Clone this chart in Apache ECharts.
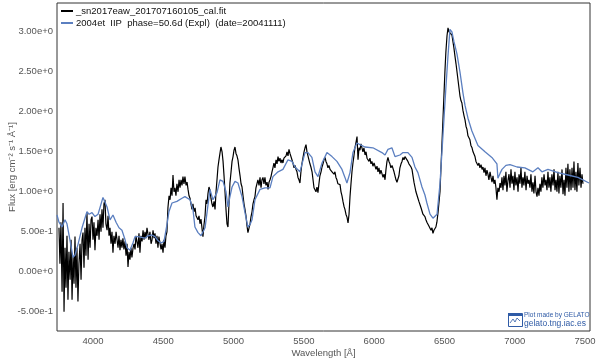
<!DOCTYPE html>
<html><head><meta charset="utf-8">
<script src="https://cdn.jsdelivr.net/npm/echarts@6/dist/echarts.min.js"></script>
<style>html,body{margin:0;padding:0;background:#fff}#c{width:600px;height:358px}</style>
</head><body><div id="c"></div>
<script>
const seriesNames = ['_sn2017eaw_201707160105_cal.fit', '2004et  IIP  phase=50.6d (Expl)  (date=20041111)'];
const xTicks = [4000, 4500, 5000, 5500, 6000, 6500, 7000, 7500];
const yTicks = [-0.5, 0, 0.5, 1.0, 1.5, 2.0, 2.5, 3.0];

const blackWave = [3758,
3765,3772,3780,3787,3794,3801,3808,3815,3822,3829,
3837,3844,3851,3858,3865,3872,3879,3886,3893,3900,
3908,3915,3922,3929,3936,3943,3950,3957,3965,3972,
3979,3986,3993,4000,4007,4014,4021,4029,4036,4043,
4050,4057,4064,4071,4078,4085,4092,4100,4107,4114,
4121,4128,4135,4142,4149,4157,4164,4171,4178,4185,
4192,4199,4206,4213,4220,4228,4235,4242,4249,4256,
4263,4270,4277,4285,4292,4299,4306,4313,4320,4327,
4334,4341,4349,4356,4363,4370,4377,4384,4391,4398,
4405,4413,4420,4427,4434,4441,4448,4455,4462,4469,
4477,4484,4491,4498,4505,4512,4519,4526,4533,4541,
4548,4555,4562,4569,4576,4583,4590,4597,4605,4612,
4619,4626,4633,4640,4647,4654,4662,4669,4676,4683,
4690,4697,4704,4711,4718,4726,4733,4740,4747,4754,
4761,4768,4775,4782,4789,4797,4804,4811,4818,4825,
4832,4839,4846,4853,4861,4868,4875,4882,4889,4896,
4903,4910,4918,4925,4932,4939,4946,4953,4960,4967,
4974,4982,4989,4996,5003,5010,5017,5024,5031,5038,
5046,5053,5060,5067,5074,5081,5088,5095,5102,5110,
5117,5124,5131,5138,5145,5152,5159,5166,5173,5181,
5188,5195,5202,5209,5216,5223,5230,5238,5245,5252,
5259,5266,5273,5280,5287,5294,5302,5309,5316,5323,
5330,5337,5344,5351,5358,5366,5373,5380,5387,5394,
5401,5408,5415,5422,5430,5437,5444,5451,5458,5465,
5472,5479,5486,5494,5501,5508,5515,5522,5529,5536,
5543,5550,5558,5565,5572,5579,5586,5593,5600,5607,
5614,5622,5629,5636,5643,5650,5657,5664,5671,5678,
5686,5693,5700,5707,5714,5721,5728,5735,5742,5750,
5757,5764,5771,5778,5785,5792,5799,5807,5814,5821,
5828,5835,5842,5849,5856,5863,5871,5878,5885,5892,
5899,5906,5913,5920,5927,5935,5942,5949,5956,5963,
5970,5977,5984,5991,5999,6006,6013,6020,6027,6034,
6041,6048,6055,6063,6070,6077,6084,6091,6098,6105,
6112,6119,6127,6134,6141,6148,6155,6162,6169,6176,
6183,6191,6198,6205,6212,6219,6226,6233,6240,6247,
6255,6262,6269,6276,6283,6290,6297,6304,6311,6318,
6326,6333,6340,6347,6354,6361,6368,6375,6382,6390,
6397,6404,6411,6418,6425,6432,6439,6446,6454,6461,
6468,6475,6482,6489,6496,6503,6510,6518,6525,6532,
6539,6546,6553,6560,6567,6575,6582,6589,6596,6603,
6610,6617,6624,6631,6639,6646,6653,6660,6667,6674,
6681,6688,6696,6703,6710,6717,6724,6731,6738,6745,
6752,6760,6767,6774,6781,6788,6795,6802,6809,6816,
6824,6831,6838,6845,6852,6859,6866,6873,6880,6888,
6895,6902,6909,6916,6923,6930,6937,6944,6952,6959,
6966,6973,6980,6987,6994,7001,7008,7016,7023,7030,
7037,7044,7051,7058,7065,7072,7080,7087,7094,7101,
7108,7115,7122,7129,7136,7144,7151,7158,7165,7172,
7179,7186,7193,7200,7208,7215,7222,7229,7236,7243,
7250,7257,7264,7272,7279,7286,7293,7300,7307,7314,
7321,7328,7336,7343,7350,7357,7364,7371,7378,7385,
7392,7400,7407,7414,7421,7428,7435,7442,7449,7456,
7464,7471,7478,7485];

const blackFlux = [0.55,
0.10,0.62,-0.25,0.86,-0.50,0.30,-0.20,0.45,-0.35,0.25,
-0.10,0.40,-0.35,0.20,-0.15,0.44,-0.20,0.30,-0.37,0.10,
0.35,-0.10,0.40,0.49,0.05,0.55,0.20,0.74,0.15,0.60,
0.30,0.65,0.69,0.40,0.62,0.27,0.55,0.45,0.65,0.40,
0.72,0.50,0.78,0.55,0.85,0.90,0.60,0.52,0.70,0.45,
0.55,0.35,0.50,0.24,0.45,0.35,0.50,0.40,0.30,0.45,
0.27,0.40,0.30,0.42,0.28,0.38,0.20,0.35,0.06,0.25,
0.15,0.30,0.18,0.30,0.35,0.28,0.45,0.44,0.30,0.48,
0.24,0.45,0.38,0.52,0.40,0.50,0.42,0.55,0.56,0.40,
0.50,0.35,0.40,0.52,0.42,0.48,0.35,0.45,0.30,0.44,
0.44,0.28,0.35,0.24,0.40,0.30,0.45,0.50,0.80,0.95,
0.90,1.05,0.95,1.21,1.00,1.05,0.95,1.10,1.00,1.15,
1.05,1.15,1.08,1.19,1.10,1.19,1.08,1.12,1.03,0.95,
0.92,0.85,0.78,0.85,0.75,0.80,0.70,0.72,0.65,0.70,
0.60,0.66,0.55,0.44,0.58,0.70,0.90,0.85,0.98,1.06,
1.02,0.92,0.85,0.81,0.88,0.78,1.00,1.15,1.31,1.40,
1.48,1.56,1.50,1.38,1.20,1.00,0.78,0.60,0.56,0.85,
1.11,1.25,1.38,1.44,1.52,1.56,1.48,1.45,1.40,1.30,
1.20,1.10,1.06,0.95,0.85,0.78,0.70,0.58,0.49,0.55,
0.60,0.69,0.75,0.85,0.90,0.94,1.05,1.10,1.15,1.08,
1.18,1.05,1.15,1.18,1.10,1.18,1.08,1.12,1.03,1.12,
1.15,1.19,1.25,1.30,1.36,1.30,1.40,1.35,1.44,1.38,
1.42,1.36,1.40,1.36,1.42,1.40,1.45,1.50,1.45,1.53,
1.48,1.50,1.40,1.36,1.30,1.33,1.28,1.25,1.18,1.15,
1.11,1.25,1.35,1.43,1.50,1.55,1.59,1.50,1.48,1.40,
1.35,1.31,1.25,1.15,1.05,1.03,1.00,1.06,0.99,1.10,
1.20,1.25,1.31,1.35,1.40,1.43,1.38,1.35,1.30,1.33,
1.28,1.30,1.25,1.26,1.22,1.25,1.18,1.15,1.10,1.12,
1.09,1.00,0.95,0.88,0.82,0.78,0.72,0.68,0.61,0.72,
0.94,1.10,1.25,1.36,1.45,1.55,1.62,1.69,1.40,1.55,
1.52,1.60,1.55,1.50,1.55,1.46,1.50,1.42,1.44,1.38,
1.42,1.35,1.38,1.32,1.36,1.34,1.28,1.32,1.25,1.30,
1.22,1.27,1.25,1.18,1.22,1.15,1.28,1.38,1.43,1.38,
1.35,1.30,1.33,1.31,1.25,1.20,1.15,1.12,1.11,1.20,
1.30,1.35,1.38,1.43,1.40,1.44,1.42,1.44,1.38,1.35,
1.33,1.31,1.28,1.20,1.12,1.06,1.00,0.96,0.92,0.88,
0.86,0.80,0.76,0.72,0.70,0.69,0.65,0.62,0.60,0.57,
0.55,0.52,0.55,0.48,0.52,0.50,0.56,0.62,0.74,0.75,
1.00,1.30,1.60,1.90,2.20,2.50,2.75,2.95,3.05,3.00,
3.02,2.98,2.96,2.88,2.80,2.69,2.60,2.50,2.40,2.30,
2.20,2.14,2.11,2.02,1.95,1.90,1.82,1.78,1.70,1.68,
1.65,1.58,1.55,1.50,1.48,1.44,1.38,1.40,1.33,1.36,
1.30,1.34,1.28,1.31,1.24,1.30,1.20,1.27,1.22,1.15,
1.25,1.18,1.12,1.20,1.10,1.15,1.05,0.90,1.05,1.00,
1.11,1.05,1.18,1.02,1.20,1.08,1.25,1.00,1.15,1.22,
1.05,1.28,1.10,1.20,1.02,1.25,1.08,1.18,1.00,1.22,
1.10,1.30,1.05,1.18,1.08,1.25,1.02,1.20,1.10,1.15,
1.05,1.22,1.00,1.12,0.98,1.20,1.00,0.94,1.05,0.95,
1.10,1.00,1.18,1.05,1.22,1.08,1.15,1.02,1.25,1.05,
1.18,1.00,1.22,1.08,1.28,1.02,1.15,1.00,1.25,0.98,
1.20,1.05,1.28,0.97,1.15,0.95,1.30,1.05,1.35,1.00,
1.28,1.02,1.30,1.05,1.38,1.02,1.25,1.00,1.36,1.08,
1.30,1.05,1.22,1.10];

const blueWave = [3744,3758,3780,3801,3815,3836,3858,3872,3893,3922,
3957,3972,3993,4014,4036,4050,4071,4085,4100,4121,
4142,4164,4185,4206,4228,4242,4263,4284,4299,4320,
4334,4370,4391,4419,4441,4462,4484,4505,4526,4540,
4562,4597,4633,4654,4690,4711,4725,4747,4768,4782,
4797,4811,4832,4853,4882,4903,4925,4946,4960,4974,
4989,5010,5031,5060,5081,5102,5117,5131,5152,5188,
5223,5259,5280,5316,5351,5387,5415,5437,5472,5508,
5529,5557,5579,5600,5629,5664,5700,5735,5771,5792,
5806,5828,5849,5877,5899,5934,5991,6055,6077,6098,
6126,6148,6183,6205,6240,6269,6290,6311,6340,6361,
6375,6397,6418,6432,6447,6468,6489,6510,6525,6539,
6553,6567,6589,6610,6631,6646,6667,6695,6738,6788,
6837,6873,6880,6895,6909,6937,6966,7016,7072,7129,
7165,7193,7236,7307,7378,7449,7528];

const blueFlux = [0.71,0.62,0.56,0.65,0.60,0.40,0.18,0.21,0.34,0.55,
0.75,0.72,0.74,0.69,0.72,0.74,0.93,0.92,0.81,0.65,
0.71,0.62,0.55,0.52,0.40,0.30,0.27,0.36,0.44,0.44,
0.42,0.42,0.45,0.46,0.44,0.39,0.36,0.38,0.59,0.75,
0.86,0.88,0.92,0.94,0.90,0.78,0.56,0.49,0.45,0.44,
0.55,0.74,1.03,0.90,0.99,1.15,1.13,1.00,0.81,0.94,
1.06,1.13,1.11,0.94,0.74,0.56,0.59,0.65,0.90,1.03,
1.05,1.05,1.19,1.25,1.28,1.40,1.38,1.31,1.25,1.49,
1.49,1.43,1.25,1.19,1.36,1.49,1.44,1.38,1.28,1.18,
1.11,1.24,1.49,1.61,1.59,1.56,1.55,1.49,1.46,1.53,
1.55,1.44,1.46,1.49,1.49,1.43,1.31,1.24,1.06,0.96,
0.86,0.72,0.67,0.65,0.72,1.10,1.70,2.30,2.70,3.03,
3.00,2.88,2.72,2.50,2.24,2.08,1.92,1.76,1.58,1.50,
1.43,1.35,1.17,1.23,1.28,1.33,1.34,1.31,1.30,1.25,
1.30,1.25,1.28,1.24,1.21,1.18,1.11];

const blackData = blackWave.map((w, i) => [w, blackFlux[i]]);
const blueData = blueWave.map((w, i) => [w, blueFlux[i]]);

const FONT = 'Liberation Sans';
const BLUE_LOGO = '#2f5ba6';
const chart = echarts.init(document.getElementById('c'), null, {renderer: 'canvas'});
chart.setOption({
  animation: false,
  backgroundColor: '#ffffff',
  textStyle: {fontFamily: FONT},
  grid: {left: 57, right: 10, top: 3, bottom: 27, outerBoundsMode: 'none', containLabel: false,
    show: true, borderColor: '#333', borderWidth: 1, backgroundColor: 'transparent'},
  legend: {
    orient: 'vertical', left: 56, top: 1, itemWidth: 12, itemHeight: 2, itemGap: 2, icon: 'rect',
    textStyle: {fontSize: 9.5, color: '#111', fontFamily: FONT, padding: [0,0,0,-2]},
    data: seriesNames
  },
  xAxis: {
    type: 'value', min: 3744, max: 7535,
    name: 'Wavelength [Å]', nameLocation: 'middle', nameGap: 17, nameMoveOverlap: false,
    nameTextStyle: {fontSize: 9.5, color: '#555', fontFamily: FONT},
    axisLine: {show: false}, axisTick: {show: false}, splitLine: {show: false},
    axisLabel: {customValues: xTicks, fontSize: 9.5, color: '#555', margin: 5, fontFamily: FONT, formatter: v => String(v)}
  },
  yAxis: {
    type: 'value', min: -0.74, max: 3.36,
    name: 'Flux [erg cm⁻² s⁻¹ Å⁻¹]', nameLocation: 'middle', nameGap: 40, nameRotate: 90, nameMoveOverlap: false,
    nameTextStyle: {fontSize: 9.5, color: '#555', fontFamily: FONT},
    axisLine: {show: false}, axisTick: {show: false}, splitLine: {show: false},
    axisLabel: {customValues: yTicks, fontSize: 9.5, color: '#555', margin: 4, fontFamily: FONT,
      formatter: v => Number(v).toExponential(2)}
  },
  series: [
    {name: seriesNames[0], type: 'line', data: blackData, showSymbol: false, symbol: 'none', lineStyle: {color: '#000', width: 1.2}, itemStyle: {color: '#000'}, z: 2},
    {name: seriesNames[1], type: 'line', data: blueData, showSymbol: false, symbol: 'none', lineStyle: {color: '#5b7fc0', width: 1.3}, itemStyle: {color: '#5b7fc0'}, z: 3}
  ],
  graphic: [
    {type: 'rect', left: 508, top: 313, shape: {width: 14, height: 13}, style: {fill: '#fff', stroke: BLUE_LOGO, lineWidth: 1}, z: 10},
    {type: 'rect', left: 508, top: 313, shape: {width: 14, height: 3}, style: {fill: BLUE_LOGO}, z: 10},
    {type: 'polyline', shape: {points: [[510,323],[513,319],[515,322],[517,318],[520,321]]}, style: {stroke: BLUE_LOGO, lineWidth: 0.8, fill: null}, z: 10},
    {type: 'text', x: 524, y: 315, style: {text: 'Plot made by GELATO', font: '6.5px ' + FONT, fill: BLUE_LOGO, textVerticalAlign: 'middle'}, z: 10},
    {type: 'text', x: 524, y: 324, style: {text: 'gelato.tng.iac.es', font: '8.5px ' + FONT, fill: BLUE_LOGO, textVerticalAlign: 'middle'}, z: 10}
  ]
});
</script>
</body></html>
